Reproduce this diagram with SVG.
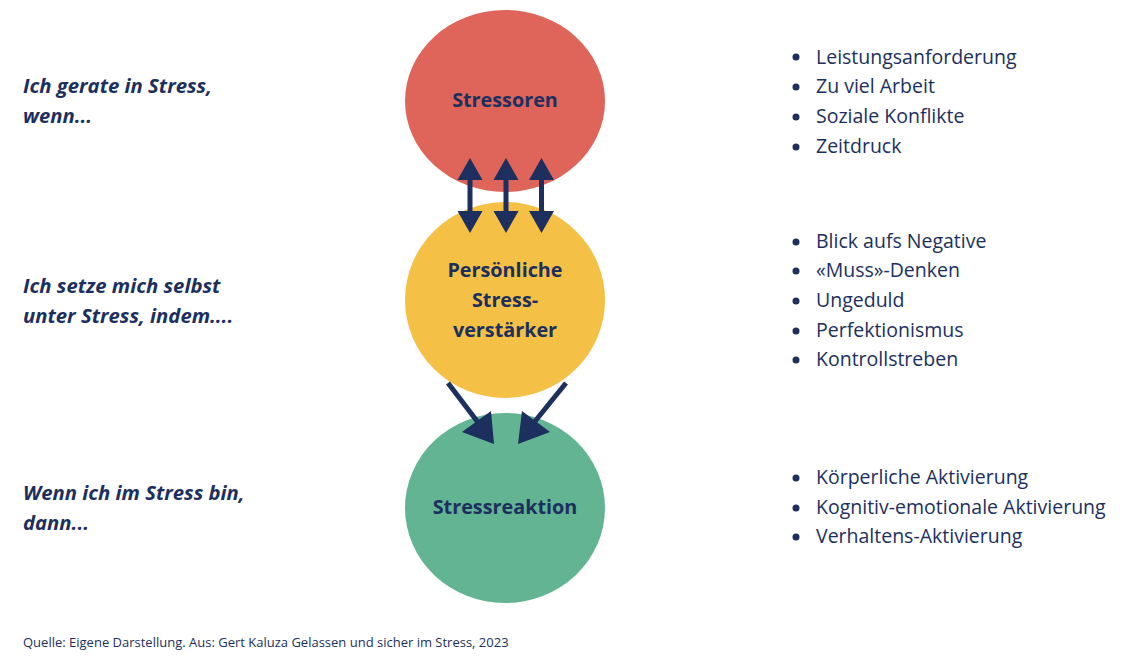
<svg xmlns="http://www.w3.org/2000/svg" width="1123" height="667" viewBox="0 0 1123 667">
<defs>
<style>
.lbl{font-family:"Open Sans","Noto Sans","Liberation Sans",sans-serif;font-weight:bold;font-size:19.8px;fill:#1c2f5e;text-anchor:middle}
.side{font-family:"Open Sans","Noto Sans","Liberation Sans",sans-serif;font-weight:bold;font-style:italic;font-size:20.3px;fill:#1c2f5e}
.item{font-family:"Open Sans","Noto Sans","Liberation Sans",sans-serif;font-size:19.5px;fill:#1c2f5e}
.src{font-family:"Open Sans","Noto Sans","Liberation Sans",sans-serif;font-size:13px;fill:#1c2f5e}
.bul{fill:#1c2f5e}
.shaft{stroke:#1c2f5e;stroke-width:5;fill:none}
.head{fill:#1c2f5e}
</style>
</defs>
<rect width="1123" height="667" fill="#ffffff"/>

<g id="node-stressoren">
<ellipse cx="505" cy="101" rx="100" ry="91" fill="#df6459"/>
<text class="lbl" x="505" y="107">Stressoren</text>
</g>
<g id="node-verstaerker">
<ellipse cx="505" cy="300" rx="100" ry="98" fill="#f4c046"/>
<text class="lbl" x="505" y="277">Persönliche</text>
<text class="lbl" x="505" y="307">Stress-</text>
<text class="lbl" x="505" y="337">verstärker</text>
</g>
<g id="node-reaktion">
<ellipse cx="505" cy="508" rx="100" ry="95" fill="#62b492"/>
<text class="lbl" x="505" y="514">Stressreaktion</text>
</g>

<g id="connectors">
<g>
<line class="shaft" x1="470" y1="178" x2="470" y2="213"/>
<polygon class="head" points="470,158 482.5,180 457.5,180"/>
<polygon class="head" points="470,233 482.5,211 457.5,211"/>
</g>
<g>
<line class="shaft" x1="506" y1="178" x2="506" y2="213"/>
<polygon class="head" points="506,158 518.5,180 493.5,180"/>
<polygon class="head" points="506,233 518.5,211 493.5,211"/>
</g>
<g>
<line class="shaft" x1="541.5" y1="178" x2="541.5" y2="213"/>
<polygon class="head" points="541.5,158 554,180 529,180"/>
<polygon class="head" points="541.5,233 554,211 529,211"/>
</g>
<line class="shaft" x1="448" y1="383" x2="480" y2="425"/>
<polygon class="head" points="494,444 462,432 491,411"/>
<line class="shaft" x1="566" y1="383" x2="532" y2="425"/>
<polygon class="head" points="518,444 522,411 550,432"/>
</g>

<g id="left-texts">
<text class="side" x="23" y="93">Ich gerate in Stress,</text>
<text class="side" x="23" y="123">wenn...</text>
<text class="side" x="23" y="293">Ich setze mich selbst</text>
<text class="side" x="23" y="323">unter Stress, indem....</text>
<text class="side" x="23" y="500">Wenn ich im Stress bin,</text>
<text class="side" x="23" y="530">dann...</text>
</g>

<g id="list-stressoren">
<circle class="bul" cx="796" cy="57" r="3.5"/>
<circle class="bul" cx="796" cy="87" r="3.5"/>
<circle class="bul" cx="796" cy="117" r="3.5"/>
<circle class="bul" cx="796" cy="147" r="3.5"/>
<text class="item" x="816" y="64">Leistungsanforderung</text>
<text class="item" x="816" y="93">Zu viel Arbeit</text>
<text class="item" x="816" y="123">Soziale Konflikte</text>
<text class="item" x="816" y="153">Zeitdruck</text>
</g>
<g id="list-verstaerker">
<circle class="bul" cx="796" cy="242" r="3.5"/>
<circle class="bul" cx="796" cy="271" r="3.5"/>
<circle class="bul" cx="796" cy="301" r="3.5"/>
<circle class="bul" cx="796" cy="331" r="3.5"/>
<circle class="bul" cx="796" cy="360" r="3.5"/>
<text class="item" x="816" y="248">Blick aufs Negative</text>
<text class="item" x="816" y="277">«Muss»-Denken</text>
<text class="item" x="816" y="307">Ungeduld</text>
<text class="item" x="816" y="337">Perfektionismus</text>
<text class="item" x="816" y="366">Kontrollstreben</text>
</g>
<g id="list-reaktion">
<circle class="bul" cx="796" cy="478" r="3.5"/>
<circle class="bul" cx="796" cy="508" r="3.5"/>
<circle class="bul" cx="796" cy="537" r="3.5"/>
<text class="item" x="816" y="484">Körperliche Aktivierung</text>
<text class="item" x="816" y="514">Kognitiv-emotionale Aktivierung</text>
<text class="item" x="816" y="543">Verhaltens-Aktivierung</text>
</g>

<text class="src" x="23" y="647">Quelle: Eigene Darstellung. Aus: Gert Kaluza Gelassen und sicher im Stress, 2023</text>
</svg>
